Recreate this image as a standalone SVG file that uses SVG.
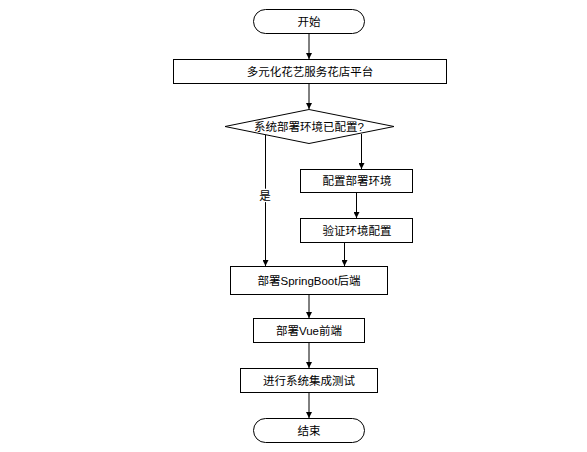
<svg xmlns="http://www.w3.org/2000/svg" width="587" height="452" viewBox="0 0 587 452">
<defs>
<marker id="ah" markerWidth="6" markerHeight="6" refX="6" refY="3" orient="auto" markerUnits="userSpaceOnUse">
<path d="M0,0 L6,3 L0,6 Z" fill="#000"/>
</marker>
<style>
.n{fill:#fff;stroke:#000;stroke-width:1}
.t{font-family:"Liberation Sans","Noto Sans CJK SC",sans-serif;font-size:11.5px;fill:#000;text-anchor:middle;dominant-baseline:central}
.c{fill:none;stroke:#000;stroke-width:1;marker-end:url(#ah)}
</style>
</defs>
<rect width="587" height="452" fill="#fff"/>
<g id="connectors">
<path class="c" d="M309,34 V59"/>
<path class="c" d="M309,83 V109"/>
<path class="c" d="M265.5,135 V266"/>
<path class="c" d="M361.5,134 V169"/>
<path class="c" d="M356.5,193 V218"/>
<path class="c" d="M344.5,243 V266"/>
<path class="c" d="M309,295 V318"/>
<path class="c" d="M309,343 V368"/>
<path class="c" d="M309,393 V418"/>
<text class="t" x="265" y="196" style="paint-order:stroke;stroke:#fff;stroke-width:3">是</text>
</g>
<g id="start">
<rect class="n" x="253.5" y="9.5" width="111" height="24" rx="12"/>
<text class="t" x="309" y="21.5">开始</text>
</g>
<g id="platform">
<rect class="n" x="173.5" y="59.5" width="273" height="24"/>
<text class="t" x="310" y="71.5">多元化花艺服务花店平台</text>
</g>
<g id="decision">
<path class="n" d="M309,109.5 L394,126.5 L309,143.5 L225,126.5 Z"/>
<text class="t" x="309" y="126.5">系统部署环境已配置?</text>
</g>
<g id="config">
<rect class="n" x="300.5" y="169.5" width="112" height="23"/>
<text class="t" x="357" y="181">配置部署环境</text>
</g>
<g id="verify">
<rect class="n" x="300.5" y="218.5" width="112" height="24"/>
<text class="t" x="357" y="230.5">验证环境配置</text>
</g>
<g id="backend">
<rect class="n" x="230.5" y="266.5" width="157" height="28"/>
<text class="t" x="309" y="280.5">部署SpringBoot后端</text>
</g>
<g id="frontend">
<rect class="n" x="253.5" y="318.5" width="111" height="24"/>
<text class="t" x="309" y="330.5">部署Vue前端</text>
</g>
<g id="test">
<rect class="n" x="240.5" y="368.5" width="137" height="24"/>
<text class="t" x="309" y="380.5">进行系统集成测试</text>
</g>
<g id="end">
<rect class="n" x="253.5" y="418.5" width="111" height="24" rx="12"/>
<text class="t" x="309" y="430.5">结束</text>
</g>
</svg>
